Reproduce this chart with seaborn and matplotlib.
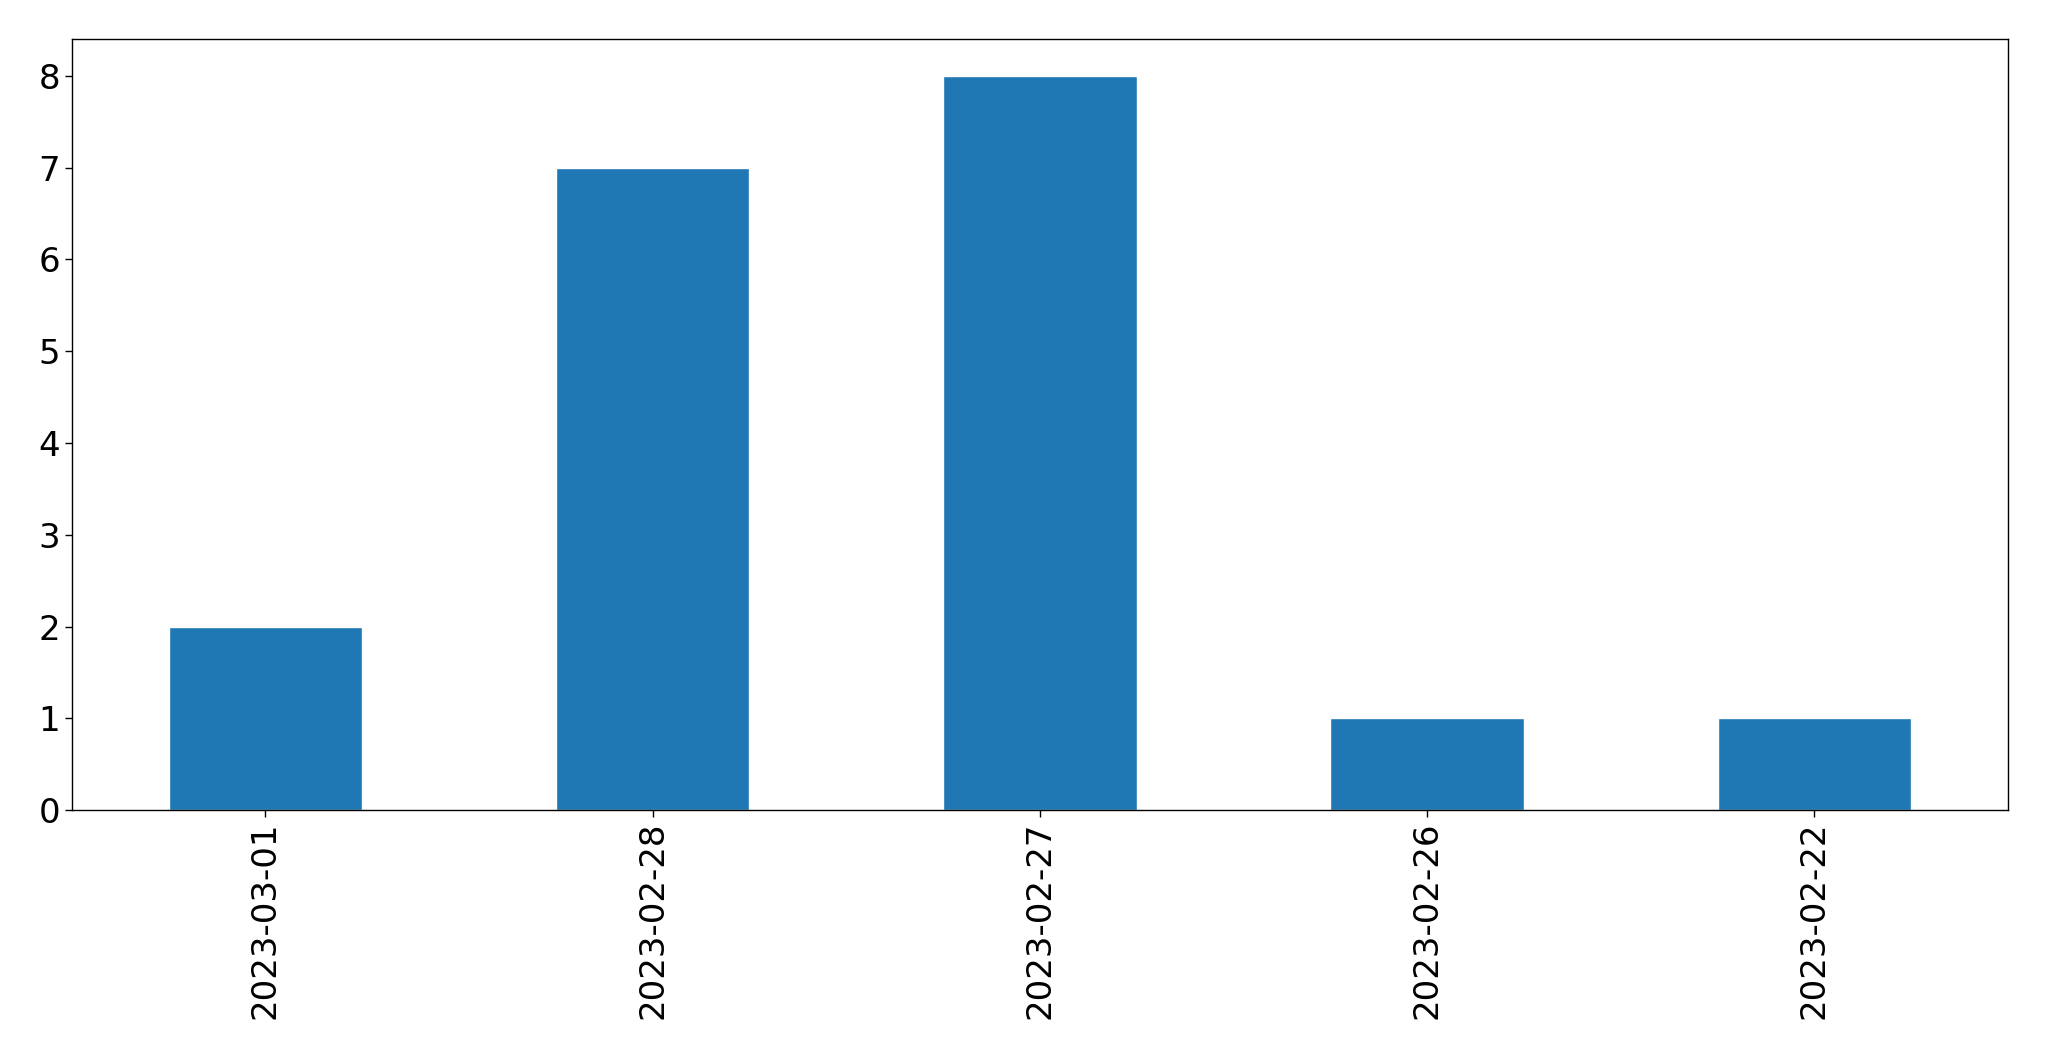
import matplotlib
matplotlib.use("Agg")
import matplotlib.pyplot as plt
import seaborn as sns
import pandas as pd

dates = ["2023-03-01", "2023-02-28", "2023-02-27", "2023-02-26", "2023-02-22"]
counts = [2, 7, 8, 1, 1]

df = pd.DataFrame({"date": dates, "count": counts})

sns.set_style("ticks")
plt.rcParams['font.family'] = ['DejaVu Sans']

fig = plt.figure(figsize=(20.49, 10.61), dpi=100)
ax = fig.add_axes([0.035, 0.2365, 0.945, 0.7265])
sns.barplot(data=df, x="date", y="count", color="#1f77b4", saturation=1,
            width=0.5, ax=ax)
ax.set_xlim(-0.5, 4.5)
ax.set_ylim(0, 8.4)
ax.set_xlabel("")
ax.set_ylabel("")
ax.tick_params(axis="both", labelsize=24.5, length=5, width=1,
               colors="black", labelcolor="black")
plt.setp(ax.get_xticklabels(), rotation=90)
for s in ax.spines.values():
    s.set_visible(True)
    s.set_linewidth(1)
    s.set_color("black")
fig.savefig("out.png", dpi=100)
